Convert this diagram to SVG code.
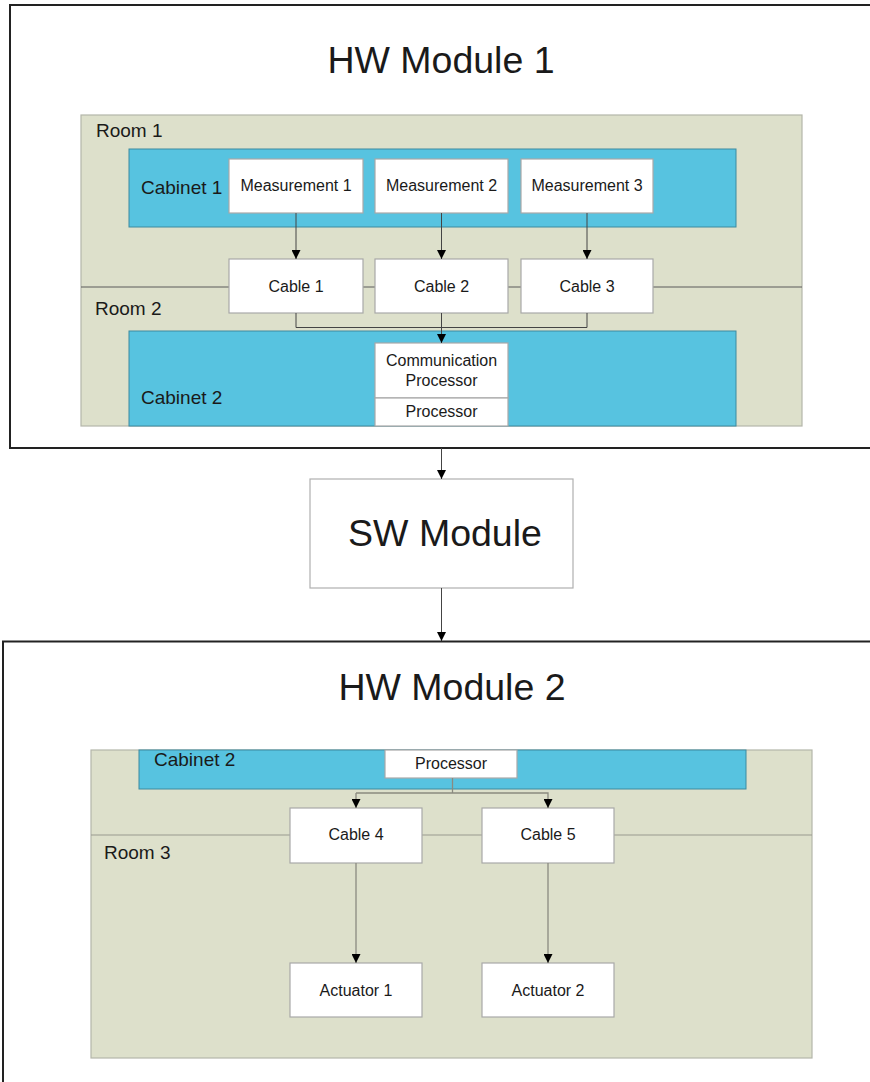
<svg xmlns="http://www.w3.org/2000/svg" width="870" height="1082" viewBox="0 0 870 1082">
  <style>
    text { font-family: "Liberation Sans", Arial, sans-serif; fill: #1a1a1a; }
    .module { fill: #ffffff; stroke: #222222; stroke-width: 2; }
    .room { fill: #dde0cb; stroke: #b4b6aa; stroke-width: 1.2; }
    .cabinet { fill: #57c3e0; stroke: #3c8aa0; stroke-width: 1; }
    .node { fill: #ffffff; stroke: #a8a8a8; stroke-width: 1.2; }
    .sw { fill: #ffffff; stroke: #b0b0b0; stroke-width: 1.2; }
    .divider { stroke: #5a5a5a; stroke-width: 1; fill: none; }
    .divider2 { stroke: #9a9a90; stroke-width: 1.2; fill: none; }
    .wire { stroke: #444444; stroke-width: 1; fill: none; }
    .wire2 { stroke: #8a8a80; stroke-width: 1.3; fill: none; }
    .title { font-size: 37.5px; text-anchor: middle; }
    .label { font-size: 19px; }
    .nodetext { font-size: 16px; text-anchor: middle; }
  </style>
  <defs>
    <marker id="arrow" markerUnits="userSpaceOnUse" markerWidth="9" markerHeight="9" viewBox="0 0 8 8" refX="8" refY="4" orient="auto">
      <path d="M0,0 L8,4 L0,8 z" fill="#000000"/>
    </marker>
  </defs>

  <!-- HW Module 1 -->
  <g id="hw-module-1">
    <rect class="module" x="10" y="5" width="880" height="443"/>
    <text class="title" x="441" y="73">HW Module 1</text>
  </g>

  <g id="room-1-2">
    <rect class="room" x="81" y="115" width="721" height="311"/>
    <line class="divider" x1="81" y1="287" x2="802" y2="287"/>
    <text class="label" x="96" y="137">Room 1</text>
    <text class="label" x="95" y="315">Room 2</text>
  </g>

  <g id="cabinet-1">
    <rect class="cabinet" x="129" y="149" width="607" height="78"/>
    <text class="label" x="141" y="194">Cabinet 1</text>
  </g>

  <g id="cabinet-2-top">
    <rect class="cabinet" x="129" y="331" width="607" height="95"/>
    <text class="label" x="141" y="404">Cabinet 2</text>
  </g>

  <g id="measurement-1">
    <rect class="node" x="229" y="159" width="134" height="54"/>
    <text class="nodetext" x="296" y="191">Measurement 1</text>
  </g>
  <g id="measurement-2">
    <rect class="node" x="375" y="159" width="133" height="54"/>
    <text class="nodetext" x="441.5" y="191">Measurement 2</text>
  </g>
  <g id="measurement-3">
    <rect class="node" x="521" y="159" width="132" height="54"/>
    <text class="nodetext" x="587" y="191">Measurement 3</text>
  </g>

  <g id="cable-1">
    <rect class="node" x="229" y="259" width="134" height="54"/>
    <text class="nodetext" x="296" y="292">Cable 1</text>
  </g>
  <g id="cable-2">
    <rect class="node" x="375" y="259" width="133" height="54"/>
    <text class="nodetext" x="441.5" y="292">Cable 2</text>
  </g>
  <g id="cable-3">
    <rect class="node" x="521" y="259" width="132" height="54"/>
    <text class="nodetext" x="587" y="292">Cable 3</text>
  </g>

  <g id="communication-processor">
    <rect class="node" x="375" y="343" width="133" height="55"/>
    <text class="nodetext" x="441.5" y="366">Communication</text>
    <text class="nodetext" x="441.5" y="386">Processor</text>
  </g>
  <g id="processor-top">
    <rect class="node" x="375" y="398" width="133" height="28"/>
    <text class="nodetext" x="441.5" y="417">Processor</text>
  </g>

  <!-- SW Module -->
  <g id="sw-module">
    <rect class="sw" x="310" y="479" width="263" height="109"/>
    <text class="title" x="445" y="546">SW Module</text>
  </g>

  <!-- HW Module 2 -->
  <g id="hw-module-2">
    <rect class="module" x="3" y="641.5" width="900" height="500"/>
    <text class="title" x="452" y="700">HW Module 2</text>
  </g>

  <g id="room-3">
    <rect class="room" x="91" y="750" width="721" height="308"/>
    <line class="divider2" x1="91" y1="835" x2="812" y2="835"/>
    <text class="label" x="104" y="859">Room 3</text>
  </g>

  <g id="cabinet-2-bottom">
    <rect class="cabinet" x="139" y="750" width="607" height="39"/>
    <text class="label" x="154" y="766">Cabinet 2</text>
  </g>

  <g id="processor-bottom">
    <rect class="node" x="385" y="750" width="132" height="28"/>
    <text class="nodetext" x="451" y="769">Processor</text>
  </g>

  <g id="cable-4">
    <rect class="node" x="290" y="808" width="132" height="55"/>
    <text class="nodetext" x="356" y="840">Cable 4</text>
  </g>
  <g id="cable-5">
    <rect class="node" x="482" y="808" width="132" height="55"/>
    <text class="nodetext" x="548" y="840">Cable 5</text>
  </g>
  <g id="actuator-1">
    <rect class="node" x="290" y="963" width="132" height="54"/>
    <text class="nodetext" x="356" y="996">Actuator 1</text>
  </g>
  <g id="actuator-2">
    <rect class="node" x="482" y="963" width="132" height="54"/>
    <text class="nodetext" x="548" y="996">Actuator 2</text>
  </g>

  <!-- Connectors -->
  <g id="connectors">
    <line class="wire" x1="296" y1="213" x2="296" y2="259" marker-end="url(#arrow)"/>
    <line class="wire" x1="441.5" y1="213" x2="441.5" y2="259" marker-end="url(#arrow)"/>
    <line class="wire" x1="587" y1="213" x2="587" y2="259" marker-end="url(#arrow)"/>
    <polyline class="wire" points="296,313 296,327.5 587,327.5 587,313"/>
    <line class="wire" x1="441.5" y1="313" x2="441.5" y2="343" marker-end="url(#arrow)"/>
    <line class="wire" x1="441.5" y1="448" x2="441.5" y2="479" marker-end="url(#arrow)"/>
    <line class="wire" x1="441.5" y1="588" x2="441.5" y2="641" marker-end="url(#arrow)"/>
    <line class="wire2" x1="452.5" y1="778" x2="452.5" y2="793"/>
    <polyline class="wire2" points="356,793 548,793 548,808" marker-end="url(#arrow)"/>
    <line class="wire2" x1="356" y1="793" x2="356" y2="808" marker-end="url(#arrow)"/>
    <line class="wire2" x1="356" y1="863" x2="356" y2="963" marker-end="url(#arrow)"/>
    <line class="wire2" x1="548" y1="863" x2="548" y2="963" marker-end="url(#arrow)"/>
  </g>
</svg>
